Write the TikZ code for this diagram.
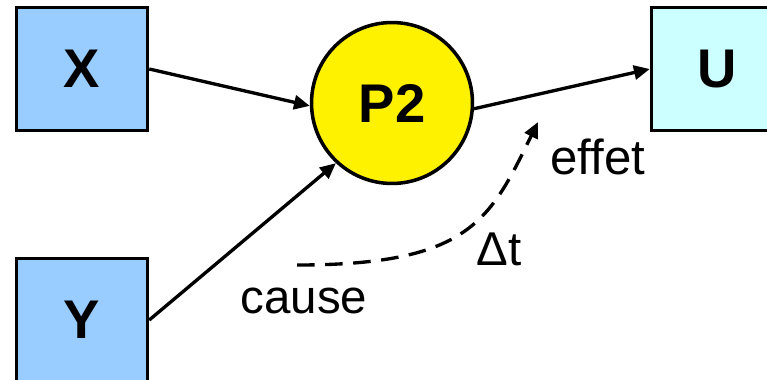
\documentclass[tikz,border=0pt]{standalone}
\usepackage{fontspec}
\setmainfont{Liberation Sans}
\usetikzlibrary{arrows.meta}
\definecolor{varblue}{HTML}{99CCFF}
\definecolor{varcyan}{HTML}{CCFFFF}

\begin{document}
\begin{tikzpicture}[x=0.02cm,y=-0.02cm,
  var/.style={draw,line width=2pt,minimum width=2.62cm,minimum height=2.46cm,
    inner sep=0pt,font=\fontsize{31}{36}\selectfont\bfseries},
  proc/.style={draw,circle,line width=2pt,fill=yellow,minimum size=3.22cm,
    inner sep=0pt,font=\fontsize{31}{36}\selectfont\bfseries},
  arr/.style={-{Triangle[length=9pt,width=8pt]},line width=1.9pt},
  lag/.style={arr,dash pattern=on 10pt off 6pt},
  note/.style={font=\fontsize{27}{32}\selectfont,anchor=base}
]
\useasboundingbox (0,0) rectangle (767,379);
\clip (0,0) rectangle (767,379);

\node[var,fill=varblue] (x) at (82,69) {X};
\node[var,fill=varblue] (y) at (82,320) {Y};
\node[proc] (p2) at (392,103) {P2};
\node[var,fill=varcyan] (u) at (717,69) {U};

\draw[arr] (x.east)--(p2.182);
\draw[arr] (y.east)--(p2.227);
\draw[arr] (p2.-4)--(u.west);

% cause -> effet, with delay
\coordinate (cause) at (297,265);
\coordinate (effet) at (538,122);
\draw[lag] (cause) .. controls (470,265) and (490,220) .. (effet);

\node[note] (causelbl) at (304,313) {cause};
\node[note] (dtlbl) at (499,265) {Δt};
\node[note,font=\fontsize{28}{32}\selectfont] (effetlbl) at (598,174) {effet};
\end{tikzpicture}
\end{document}
